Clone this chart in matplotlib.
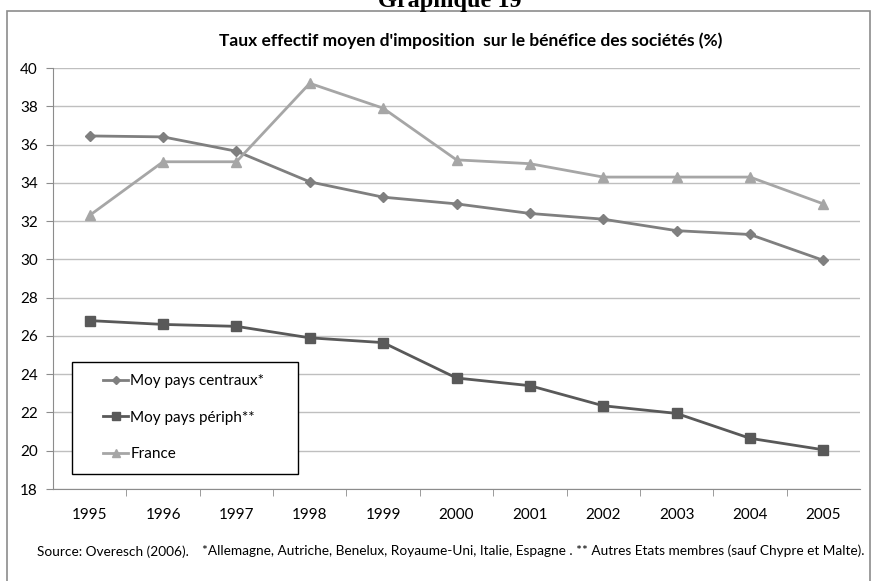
import numpy as np
import matplotlib.pyplot as plt
from matplotlib.patches import Rectangle

years = ['1995', '1996', '1997', '1998', '1999', '2000', '2001', '2002', '2003', '2004', '2005']
centraux = [36.45, 36.4, 35.65, 34.05, 33.25, 32.9, 32.4, 32.1, 31.5, 31.3, 29.95]
periph = [26.8, 26.6, 26.5, 25.9, 25.65, 23.8, 23.4, 22.35, 21.95, 20.65, 20.05]
france = [32.3, 35.1, 35.1, 39.2, 37.9, 35.2, 35.0, 34.3, 34.3, 34.3, 32.9]

plt.rcParams['font.family'] = ['Lato', 'DejaVu Sans']

fig = plt.figure(figsize=(8.77, 5.81), dpi=100)
W, H = 877, 581

# outer chart border (Excel chart area)
fig.patches.append(Rectangle((7 / W, -0.05), 863 / W, 1 - 11 / H + 0.05,
                             transform=fig.transFigure, fill=False,
                             edgecolor='#8c8c8c', linewidth=1.2))
# heading cut off at the top of the picture, as in the scan
fig.text(450 / W, 1 - 7 / H, 'Graphique 19', ha='center', va='baseline',
         family='Liberation Serif', fontweight='bold', fontsize=17.5)

ax = fig.add_axes([53 / W, 1 - 489 / H, (860 - 53) / W, (489 - 68) / H])
x = np.arange(len(years))

ax.plot(x, centraux, color='#7f7f7f', lw=2, marker='D', ms=5, label='Moy pays centraux*')
ax.plot(x, periph, color='#595959', lw=2, marker='s', ms=7, label='Moy pays périph**')
ax.plot(x, france, color='#a6a6a6', lw=2, marker='^', ms=7, label='France')

ax.set_xlim(-0.5, len(years) - 0.5)
ax.set_ylim(18, 40)
ax.set_yticks(np.arange(18, 41, 2))
ax.set_xticks(x)
ax.set_xticklabels(years)
ax.set_xticks(np.arange(0.5, len(years) - 0.5, 1), minor=True)
ax.tick_params(axis='x', which='major', length=0, pad=14, labelsize=11)
ax.tick_params(axis='x', which='minor', length=5, color='#8c8c8c')
ax.tick_params(axis='y', length=5, color='#8c8c8c', labelsize=11, pad=6)
ax.grid(axis='y', color='#bfbfbf', linewidth=1)
ax.set_axisbelow(True)
for side in ['top', 'right']:
    ax.spines[side].set_visible(False)
for side in ['left', 'bottom']:
    ax.spines[side].set_color('#8c8c8c')

# legend box drawn separately so the padding matches the Excel legend
box = Rectangle((72 / W, 1 - 474 / H), 226 / W, 112 / H, transform=fig.transFigure,
                facecolor='white', edgecolor='black', linewidth=1, zorder=4)
ax.add_patch(box)
box.set_clip_on(False)
leg = ax.legend(loc='upper left', bbox_to_anchor=(103 / W, 1 - 374 / H),
                bbox_transform=fig.transFigure, fontsize=11, frameon=False,
                borderpad=0, labelspacing=1.48, handlelength=1.64, handletextpad=0.15,
                borderaxespad=0, markerscale=0.8)
leg.set_zorder(5)

fig.text(471 / W, 1 - 41 / H, "Taux effectif moyen d'imposition  sur le bénéfice des sociétés (%)",
         ha='center', va='center', fontsize=12.5, fontweight='bold')
fig.text(37 / W, 1 - 552 / H, 'Source: Overesch (2006).', ha='left', va='center', fontsize=9.8)
fig.text(202 / W, 1 - 551 / H,
         '*Allemagne, Autriche, Benelux, Royaume-Uni, Italie, Espagne . ** Autres Etats membres (sauf Chypre et Malte).',
         ha='left', va='center', fontsize=9.8)

fig.savefig('out.png', dpi=100)
